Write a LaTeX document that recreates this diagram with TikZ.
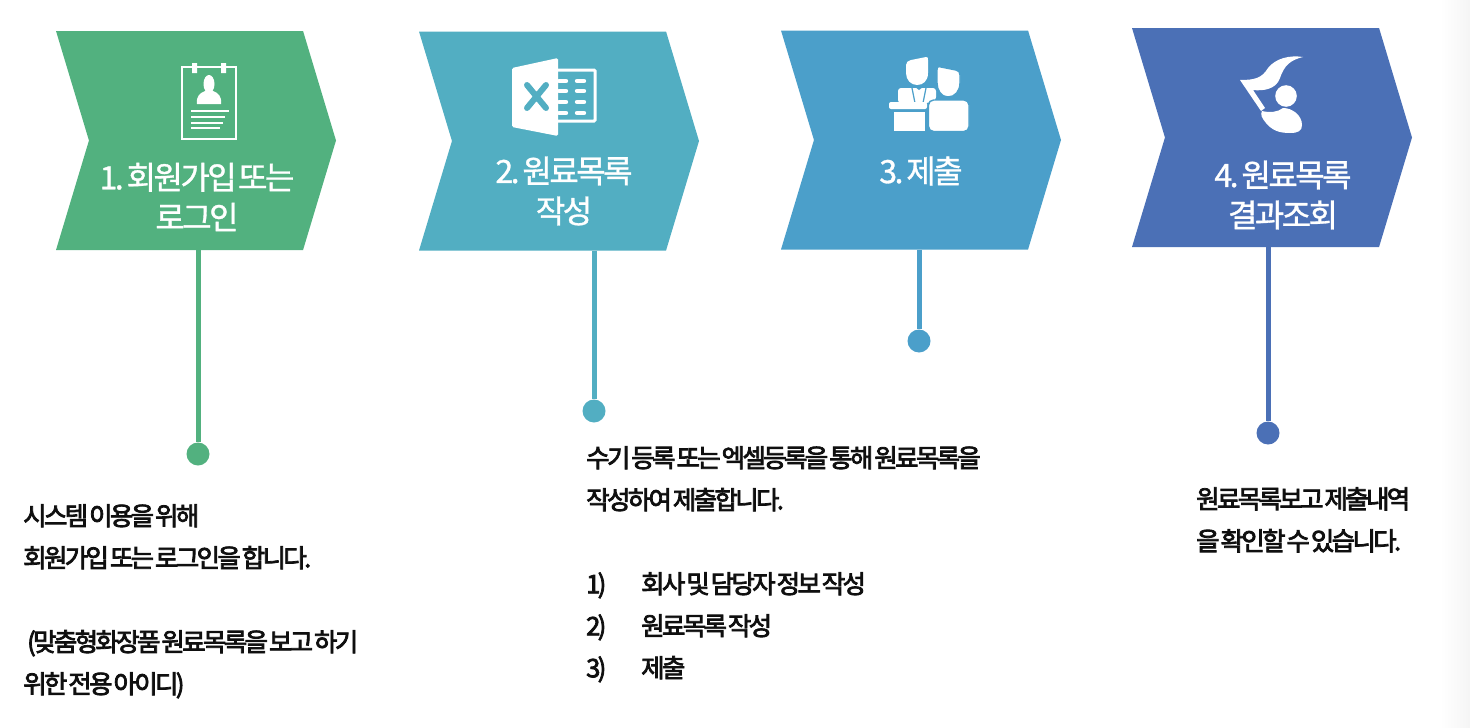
\documentclass[tikz,border=0pt]{standalone}
\usepackage{fontspec}
\setmainfont{Noto Sans CJK KR}
\newfontfamily\titlefont{Noto Sans CJK KR}[LetterSpace=-8,WordSpace=0.3,FakeBold=1]
\newfontfamily\bodyfont{Noto Sans CJK KR}[LetterSpace=-10.5,WordSpace=0.3,FakeBold=3]
\usetikzlibrary{shapes.symbols}
\definecolor{leaf}{RGB}{82,177,127}
\definecolor{lagoon}{RGB}{82,174,194}
\definecolor{ocean}{RGB}{75,159,202}
\definecolor{indigo}{RGB}{75,112,182}
\definecolor{ink}{RGB}{15,15,15}
\tikzset{
  x=1pt,y=-1pt,
  chevron/.style={signal,signal from=west,signal to=east,signal pointer angle=146.5,
    fill=#1,inner sep=0pt,minimum width=280pt,minimum height=219pt},
  stem/.style={draw=#1,line width=5pt},
  dot/.style={circle,fill=#1,inner sep=0pt,minimum size=23pt},
  steptitle/.style={text=white,align=center,font=\fontsize{32}{40}\titlefont},
  body/.style={text=ink,align=left,anchor=north west,inner sep=0pt,
    font=\fontsize{25.5}{42}\bodyfont},
  % pictograms
  pics/idcard/.style={code={
    \draw[white,line width=2pt] (182,67) rectangle (236,139);
    \fill[white] (192,63) rectangle (197,73) (221,63) rectangle (226,73);
    \fill[white] (209,84) ellipse (5.5 and 9);
    \fill[white] (197,104) .. controls (196,96) and (200,93) .. (205,91) -- (213,91)
      .. controls (218,93) and (222,96) .. (221,104) -- cycle;
    \draw[white,line width=1.8pt] (191,111) -- (229,111) (191,117) -- (225,117)
      (191,123) -- (223,123) (191,128) -- (220,128);
  }},
  pics/excel/.style={code={
    \fill[white,rounded corners=1.5pt] (512,68) -- (558,58) -- (558,136) -- (512,127) -- cycle;
    \draw[lagoon,line width=6pt,line cap=round] (527,85) -- (546,108) (546,85) -- (527,108);
    \draw[white,line width=3pt,rounded corners=1pt] (558,70) -- (595,70) -- (595,121) -- (558,121);
    \foreach \y in {81,91,102,113}{
      \draw[white,line width=4.4pt,line cap=round] (559,\y) -- (566,\y) (577,\y) -- (584,\y);
    }
  }},
  pics/speakers/.style={code={
    \fill[white] (906,65) .. controls (906,62) and (908,61) .. (911,60) -- (926,57)
      .. controls (928,57) and (928,58) .. (928,60) -- (928,73) .. controls (928,81) and (923,85) .. (917,85)
      .. controls (911,85) and (906,80) .. (906,73) -- cycle;
    \fill[white,rounded corners=3pt] (898,103) -- (898,88) -- (936,88) -- (936,100) -- (928,103) -- cycle;
    \draw[ocean,line width=1.2pt] (912,88) -- (915,103) (926,88) -- (923,103);
    \fill[ocean] (915,87) -- (923,87) -- (919,90) -- cycle;
    \fill[white,rounded corners=2pt] (889,102) rectangle (927,109);
    \fill[white] (894,112) rectangle (925,130.5);
    \fill[white,draw=ocean,line width=1.4pt] (937,70) .. controls (937,67) and (938,66) .. (941,67) -- (956,70)
      .. controls (959,71) and (960,72) .. (960,75) -- (960,83) .. controls (960,91) and (955,97) .. (948,97)
      .. controls (941,97) and (937,90) .. (937,83) -- cycle;
    \fill[white,draw=ocean,line width=1.4pt,rounded corners=5pt] (928.5,100) rectangle (969,131.5);
  }},
  pics/flagman/.style={code={
    \fill[white] (1240,80) .. controls (1255,80) and (1262,78) .. (1268,68)
      .. controls (1276,58) and (1290,55) .. (1303,57)
      .. controls (1290,60) and (1284,66) .. (1280,78)
      .. controls (1276,90) and (1262,91) .. (1253,90)
      -- (1265,108) -- (1261,111) -- cycle;
    \fill[white] (1286,96) circle (10.8);
    \fill[white] (1262,111) .. controls (1270,113) and (1278,112) .. (1283,108)
      .. controls (1292,108) and (1302,115) .. (1302,125)
      .. controls (1302,131) and (1298,133) .. (1290,133)
      .. controls (1278,133) and (1272,130) .. (1266,123)
      .. controls (1262,118) and (1260,115) .. (1262,111) -- cycle;
  }},
}
\begin{document}
\begin{tikzpicture}
  \useasboundingbox (0,0) rectangle (1470,728);
  \shade[left color=white,right color=black!4] (1440,0) rectangle (1470,728);
  \node[chevron=leaf] (chev1) at (196,140.5) {};
  \node[chevron=lagoon] (chev2) at (559,141) {};
  \node[chevron=ocean] (chev3) at (921,140) {};
  \node[chevron=indigo] (chev4) at (1272,137.5) {};
  \pic {idcard}; \pic {excel}; \pic {speakers}; \pic {flagman};
  \node[steptitle] (title1) at (197,197) {1. 회원가입 또는\\로그인};
  \node[steptitle] (title2) at (564,191) {2. 원료목록\\작성};
  \node[steptitle] (title3) at (921,171) {3. 제출};
  \node[steptitle] (title4) at (1283,195) {4. 원료목록\\결과조회};
  \node[dot=leaf] (dot1) at (198,454) {};
  \node[dot=lagoon] (dot2) at (594,411) {};
  \node[dot=ocean] (dot3) at (919,341) {};
  \node[dot=indigo] (dot4) at (1268,433) {};
  \draw[stem=leaf] (chev1.south -| dot1) -- (dot1);
  \draw[stem=lagoon] (chev2.south -| dot2) -- (dot2);
  \draw[stem=ocean] (chev3.south -| dot3) -- (dot3);
  \draw[stem=indigo] (chev4.south -| dot4) -- (dot4);
  \node[body] (text1) at (23,504) {시스템 이용을 위해\\회원가입 또는 로그인을 합니다.\\[42pt]\hspace{4pt}(맞춤형화장품 원료목록을 보고 하기\\위한 전용 아이디)};
  \node[body] (text2) at (586,446) {수기 등록 또는 엑셀등록을 통해 원료목록을\\작성하여 제출합니다.\\[42pt]\makebox[55pt][l]{1)}회사 및 담당자 정보 작성\\\makebox[55pt][l]{2)}원료목록 작성\\\makebox[55pt][l]{3)}제출};
  \node[body] (text4) at (1196,487) {원료목록보고 제출내역\\을 확인할 수 있습니다.};
\end{tikzpicture}
\end{document}
